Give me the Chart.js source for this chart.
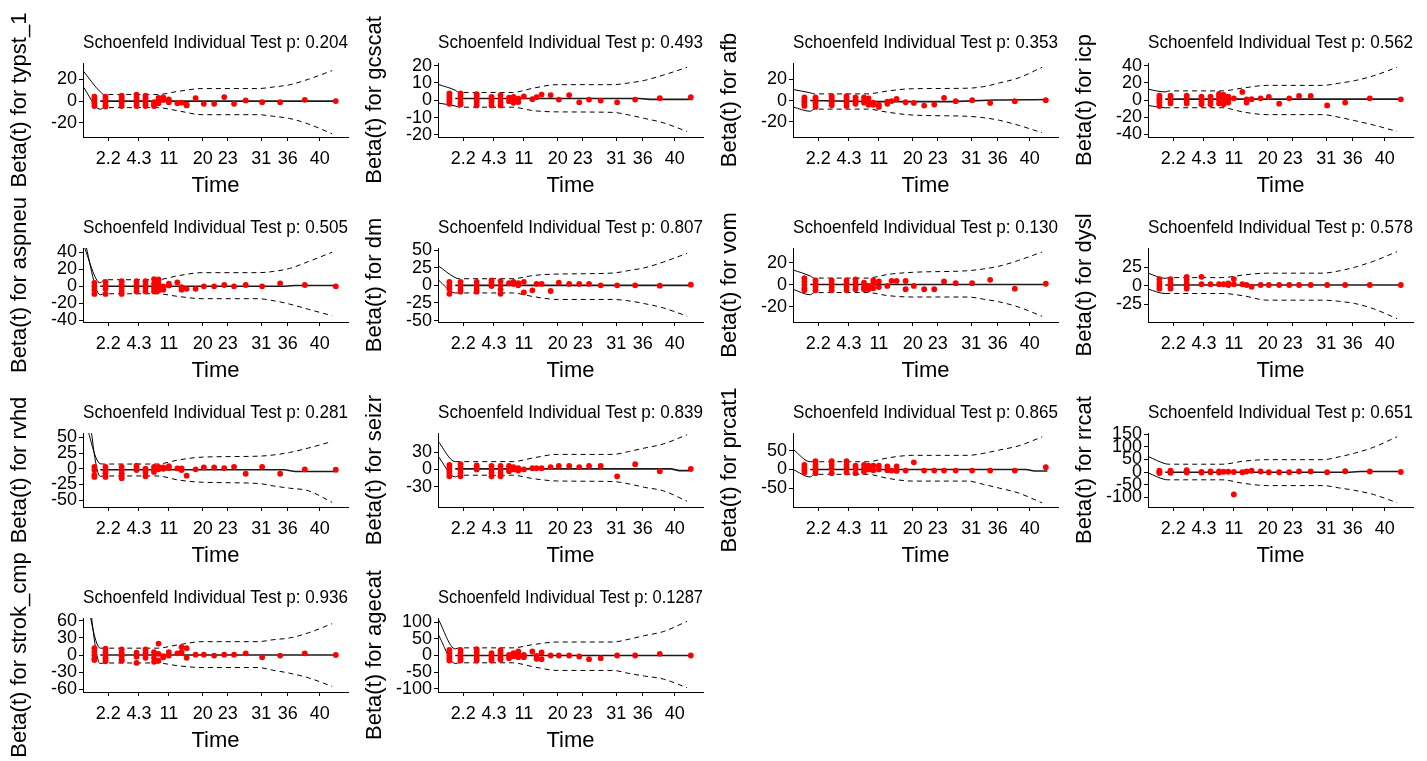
<!DOCTYPE html>
<html>
<head>
<meta charset="utf-8">
<title>Schoenfeld residuals</title>
<script src="https://cdn.jsdelivr.net/npm/chart.js@4"></script>
<style>
  html, body { margin: 0; padding: 0; background: #fff; }
  body { width: 1427px; height: 761px; overflow: hidden; position: relative; }
  canvas.panel { position: absolute; }
</style>
</head>
<body>
<script>
// covariate names and test p-values, one per panel (read left to right, top to bottom)
const covariates = ['typst_1', 'gcscat', 'afb', 'icp', 'aspneu', 'dm', 'vom', 'dysl',
                    'rvhd', 'seizr', 'prcat1', 'rrcat', 'strok_cmp', 'agecat'];
const pValues = ['0.204', '0.493', '0.353', '0.562', '0.505', '0.807', '0.130', '0.578',
                 '0.281', '0.839', '0.865', '0.651', '0.936', '0.1287'];

// x axis is the transformed time scale (0-100), ticks show original times
const xTickPos = [9.5, 21.1, 32.4, 45.2, 54.6, 67.3, 77.3, 89.3];
const xTickLabels = ['2.2', '4.3', '11', '20', '23', '31', '36', '40'];

// event times (transformed) where residuals sit
const timeCols = [4.3, 8.5, 14.6, 20.2, 23.6, 26.8, 28.5, 30.3, 32.4, 35.6, 37.2,
                  39.1, 42.5, 45.6, 49.5, 53.3, 57.0, 61.4, 67.6, 74.4, 83.7, 95.4];

// y axis range and ticks for each panel
const yMin = [-33, -21.2, -34, -43, -42, -52, -33.6, -49, -61, -65, -100, -139, -65, -110];
const yMax = [35, 21.5, 35, 43, 45, 53, 33.3, 51, 57, 63, 97, 155, 65, 113];
const yTicks = [
  [-20, 0, 20], [-20, -10, 0, 10, 20], [-20, 0, 20], [-40, -20, 0, 20, 40],
  [-40, -20, 0, 20, 40], [-50, -25, 0, 25, 50], [-20, 0, 20], [-25, 0, 25],
  [-50, -25, 0, 25, 50], [-30, 0, 30], [-50, 0, 50], [-100, -50, 0, 50, 100, 150],
  [-60, -30, 0, 30, 60], [-100, -50, 0, 50, 100]
];

// confidence band, sampled at bandX
const bandX = [0, 6.5, 8, 28, 36, 45, 66, 72, 78, 85, 94];
const bandUpper = [
  [28, 8.5, 6, 6, 9, 11.5, 11.5, 13, 15, 20, 28],
  [9.2, 5.8, 4.5, 4.5, 7, 9, 9, 10, 11.5, 14.5, 19],
  [10.3, 7.2, 6.2, 6.2, 9, 11, 11.5, 13, 16.5, 21, 31],
  [12.5, 9.4, 10.6, 10.6, 14, 17, 17, 19.5, 22.5, 28, 38],
  [50, 4, 7.7, 7.7, 12.5, 16, 16, 17.5, 21, 29, 40],
  [28, 11, 9.4, 9.4, 14, 16, 17.5, 21, 25, 33, 45.5],
  [13.5, 8, 6.1, 6.1, 9.5, 11.3, 12.8, 14.4, 17, 22, 29.7],
  [17, 10, 11, 11, 14.5, 17, 17, 20, 25, 33, 46],
  [90, 8, 7.5, 7.5, 14, 18.5, 20, 22, 26, 33, 43.5],
  [49, 13.5, 13.5, 13.5, 20, 26, 26, 31, 37, 44, 60],
  [53.6, 20.5, 20.5, 20.5, 31, 37.5, 37.5, 43, 52, 62.5, 86.6],
  [62, 33, 31, 31, 43, 49, 49, 60, 75, 98, 140],
  [130, 12, 12, 12, 18, 23.4, 23.4, 27, 30, 38.8, 55],
  [111, 20, 23, 23, 33, 40.6, 40.6, 49, 60, 72, 103]
];
const bandLower = [
  [13.5, -7.5, -6, -6, -9, -12.5, -12.5, -14, -16, -21, -30],
  [-1.6, -3.3, -4, -4, -6, -6.7, -7, -8.5, -10.5, -13, -18],
  [-6, -10, -8, -8, -11, -13.5, -14.7, -16, -18.5, -23, -30],
  [-6.3, -9, -9, -9, -14, -17, -17, -20, -24, -29, -36.5],
  [62, -10, -8.8, -8.8, -12, -14.6, -14.6, -17, -21, -27, -34.6],
  [8, -10.8, -10.8, -10.8, -16, -20, -20, -22, -26, -32, -43.7],
  [-4, -9, -7, -7, -9.8, -11, -11, -13, -15.5, -20, -28.4],
  [-4.5, -10.5, -10.5, -10.5, -13.6, -19.5, -19.5, -21, -24, -31, -44.5],
  [170, -12, -11.5, -11.5, -18, -21.5, -23.5, -27.5, -31, -35, -53.5],
  [23, -13, -10, -10, -16, -20, -21, -25, -31, -37, -55],
  [0, -20, -13, -13, -24, -31, -31, -40, -50, -62.5, -89],
  [-3, -30, -31, -31, -45, -54, -54, -63, -73, -89, -122],
  [200, -15, -14, -14, -19, -22, -22, -27, -32, -40, -55],
  [64.6, -24, -22, -22, -34, -45, -45, -54, -62, -71, -97]
];

// smoothed beta(t), sampled at fitX
const fitX = [6.5, 30, 60, 76, 80, 88, 91, 96];
const fitY = [
  [0, 0, 0, 0, 0, 0, 0, 0],
  [1, 1, 1, 1, 0.5, 0.5, 0.5, 0.5],
  [0, -1, -1, 0.5, 0.5, 0.8, 0.8, 1],
  [1, 1, 1, 1, 1, 1, 1, 1],
  [0, 0, 0, 0, 1, 1, 1, 1],
  [0, 0, 0, 0, 0, 0, 0, 0],
  [0.3, 0.3, 0.3, 0.3, 0.3, 0.3, 0.3, 0.3],
  [1, 1, 1, 1, 1, 1, 1, 1],
  [-1.5, -1.5, -1.5, -1.5, -4.5, -4.5, -4.5, -4.5],
  [1, 1, 1, 1, 1, 1, -2, -2],
  [0, 0, 0, 0, 0, 0, -4, -4],
  [-1, -1, -1, -1, 2, 2, 2, 2],
  [0, 0, 0, 0, 0, 0, 0, 0],
  [0, 0, 0, 0, 0, 0, 0, 0]
];

// scaled Schoenfeld residuals, one list per event time in timeCols
const residTypst = [[4,2,0,-2,-4.5],[4,1.5,-1,-3.5,-5],[5,3,1,-1.5,-4.5],[6,3.5,1,-1.5,-4.5],[5,2.5,0,-2.5,-4.5],[-1,-3,-4.5],[3,1,-2],[3.5,1],[1.5,-1],[-2],[-1.5],[-3,-4],[2.8],[-2.5],[-2.5],[3.7],[-2.5],[0.6],[-1],[-1],[1.2],[0]];
const residGcscat = [[4,2.5,1,-0.5,-2],[4,2.5,1,-1,-2.5],[3.5,2,0.5,-1,-3],[2,0.5,-1,-3],[3,1,-1,-3],[1.5,-0.5],[2,0.5,-1.5],[1,-1],[2.2],[0.6],[1.8],[3.3],[3],[0.4],[3],[-1.2],[0.4],[-0.2],[-1.2],[0.4],[1.2],[1.8]];
const residAfb = [[3,1,-1,-3,-5],[3,1,-1,-3,-6],[4,2,0,-2,-4.5],[4,2,0,-2,-5],[3,1,-1,-3],[3,0,-2],[2,-1,-4],[-2,-4],[-4,-6],[-1,-3],[-0.5],[1.5],[-1.6],[-2.2],[-4.7],[-3.8],[2.5],[-0.6],[0.3],[-2.2],[-0.6],[0.3]];
const residIcp = [[5,2,0,-3,-7],[5,2,-1,-4],[5,2,-1,-4],[4,1,-2,-5],[4,1,-2,-5],[7,4,0,-4],[6,2,-2,-5],[4,0,-3],[2],[9.4],[0.8,-3],[1],[2],[3.5],[-4.3],[2],[4.7],[4.7],[-6.3],[-3],[2],[0.8]];
const residAspneu = [[4,0,-4,-9],[5,1,-3,-9],[6,2,-2,-6,-9],[6,2,-2,-6],[6,2,-2,-6],[8.5,3,-2,-6],[8,3,-1,-5],[0,-4],[3,1],[4.5],[-1,-4],[-3],[-3],[0],[0],[1.5],[0],[1.5],[0],[3.5],[1.5],[0]];
const residDm = [[5,0,-5,-12],[5,0,-5,-9],[5,0,-5,-9],[7,3,-1],[6,0,-6,-12],[3],[5,2],[3,0],[5,-10],[-7],[2],[2],[-8],[4],[2],[2],[2],[0],[0],[0],[-0.5],[1]];
const residVom = [[6,3,0,-3,-5],[4,1,-2,-5],[4,1,-2,-5],[4,1,-2,-5],[5,2,-1,-4],[2,-2,-4],[-1,-4],[4,1,-3],[3,-2],[-1],[3.5],[3.5],[3.5,-4],[-1],[-4],[-4],[3],[1.5],[1.5],[4.5],[-3.5],[1]];
const residDysl = [[9,4,0,-4],[9,4,0,-4],[12,8,3,-1,-4],[12,2],[2],[2],[2],[1,3],[2,9],[2],[1],[-1.5],[1],[1],[1],[1],[1],[1],[1],[1],[1],[1]];
const residRvhd = [[3,-2,-10,-13],[3,-3,-7,-13],[3,-2,-7,-11,-15],[5,1,-2],[0,-5,-12],[3,-2,-5],[3,-1],[2,0],[4,1],[0.5],[0.5,-2],[-11],[-1],[2],[2],[1],[3],[-8],[3],[-8],[-1],[-1.5]];
const residSeizr = [[8,3,-3,-8,-12],[9,4,-1,-6,-12],[7,3,0],[6,0,-6,-12],[6,0,-6,-12],[6,1,-3],[4,0],[2,-2],[0],[2],[2],[2],[4],[6],[6],[4],[6],[6],[-12],[9],[-3],[1]];
const residPrcat1 = [[12,5,-2,-8],[22,12,5,-3,-10],[22,12,3,-10],[22,12,4,-8],[10,3,-10],[12,3,-6],[10,0],[10,-2],[10,0],[8,-2],[-3],[8,-4],[-3],[19],[-3],[-3],[-3],[-3],[-3],[-3],[-3],[6]];
const residRrcat = [[5,0,-4],[5,0,-3],[7,3,-2],[0,-2],[2,-1],[2,-2],[1],[1],[0,-89],[-1],[2],[5],[2],[-1],[-1],[-1],[2],[2],[-1],[3],[2],[0]];
const residStrok = [[12,6,0,-6,-9],[11,5,-1,-6,-11],[10,4,-2,-8,-10],[4,-3,-14],[10,5,0,-5],[5,-5,-12],[20,2,-10],[-4,-2],[5,-1],[3],[14,5],[12,-5],[0.5],[0.5],[-1],[0.5],[0.5],[3],[-4],[-1],[3],[0]];
const residAgecat = [[17,8,0,-8,-15],[17,8,0,-8,-15],[19,10,0,-8,-15],[7,0,-8,-15],[16,8,0,-8,-13],[2,-8],[7,-2],[12,2,-5],[2,-5],[12],[-1,-10],[9,-11],[0],[0],[0],[-3],[-11],[-8],[0],[0],[5],[0]];

const residuals = [residTypst, residGcscat, residAfb, residIcp, residAspneu, residDm, residVom,
                   residDysl, residRvhd, residSeizr, residPrcat1, residRrcat, residStrok, residAgecat];

const FONT = "'Liberation Sans', Arial, sans-serif";

// first band segment is drawn solid, the rest dashed
const bandStyle = {
    borderColor: '#000',
    borderWidth: 1,
    pointRadius: 0,
    cubicInterpolationMode: 'monotone',
    segment: { borderDash: ctx => ctx.p0DataIndex === 0 ? [] : [5, 4] }
};

function axisLines() {
    return {
        grid: { drawOnChartArea: false, drawTicks: true, tickLength: 4, color: '#000' },
        border: { display: true, color: '#000', width: 1 }
    };
}

function makePanel(i) {
    const col = i % 4;
    const row = Math.floor(i / 4);

    const canvas = document.createElement('canvas');
    canvas.className = 'panel';
    canvas.width = 375;
    canvas.height = 235;
    canvas.style.left = (col * 355) + 'px';
    canvas.style.top = (row * 185 - 25) + 'px';
    document.body.appendChild(canvas);

    const points = [];
    residuals[i].forEach((ys, c) => {
        ys.forEach(y => points.push({ x: timeCols[c], y: y }));
    });
    const fit = fitX.map((x, k) => ({ x: x, y: fitY[i][k] }));
    const upper = bandX.map((x, k) => ({ x: x, y: bandUpper[i][k] }));
    const lower = bandX.map((x, k) => ({ x: x, y: bandLower[i][k] }));

    new Chart(canvas, {
        type: 'line',
        data: {
            datasets: [
                { data: points, showLine: false, pointRadius: 2.9, pointBorderWidth: 0,
                  pointBackgroundColor: '#ff0000', pointBorderColor: '#ff0000' },
                { data: fit, borderColor: '#1a1a1a', borderWidth: 1.6, pointRadius: 0 },
                Object.assign({ data: upper }, bandStyle),
                Object.assign({ data: lower }, bandStyle)
            ]
        },
        options: {
            responsive: false,
            animation: false,
            events: [],
            layout: { padding: { top: 56.6, left: 0, right: 27, bottom: 11 } },
            plugins: {
                legend: { display: false },
                tooltip: { enabled: false },
                title: {
                    display: true,
                    text: 'Schoenfeld Individual Test p: ' + pValues[i],
                    align: 'start',
                    fullSize: false,   // box spans the plot only, so long titles get squeezed to it
                    color: '#000',
                    font: { family: FONT, size: 19, weight: 'normal' },
                    padding: { top: 0, bottom: 8.6 }
                }
            },
            scales: {
                x: Object.assign({
                    type: 'linear',
                    min: 0,
                    max: 100,
                    afterBuildTicks: s => { s.ticks = xTickPos.map(v => ({ value: v })); },
                    afterFit: s => { s.height = 62; },
                    ticks: {
                        autoSkip: false, maxRotation: 0, padding: 7, color: '#000',
                        font: { family: FONT, size: 18 },
                        callback: (v, k) => xTickLabels[k]
                    },
                    title: {
                        display: true, text: 'Time', color: '#000',
                        font: { family: FONT, size: 22 }, padding: { top: 0, bottom: 0 }
                    }
                }, axisLines()),
                y: Object.assign({
                    type: 'linear',
                    min: yMin[i],
                    max: yMax[i],
                    afterBuildTicks: s => { s.ticks = yTicks[i].map(v => ({ value: v })); },
                    afterFit: s => { s.width = 83; },
                    ticks: {
                        autoSkip: false, padding: 2, color: '#000',
                        font: { family: FONT, size: 18, lineHeight: 1 },
                        callback: v => String(v)
                    },
                    title: {
                        display: true, text: 'Beta(t) for ' + covariates[i], color: '#000',
                        font: { family: FONT, size: 22 }, padding: { top: 7, bottom: 0 }
                    }
                }, axisLines())
            }
        }
    });
}

covariates.forEach((name, i) => makePanel(i));
</script>
</body>
</html>
